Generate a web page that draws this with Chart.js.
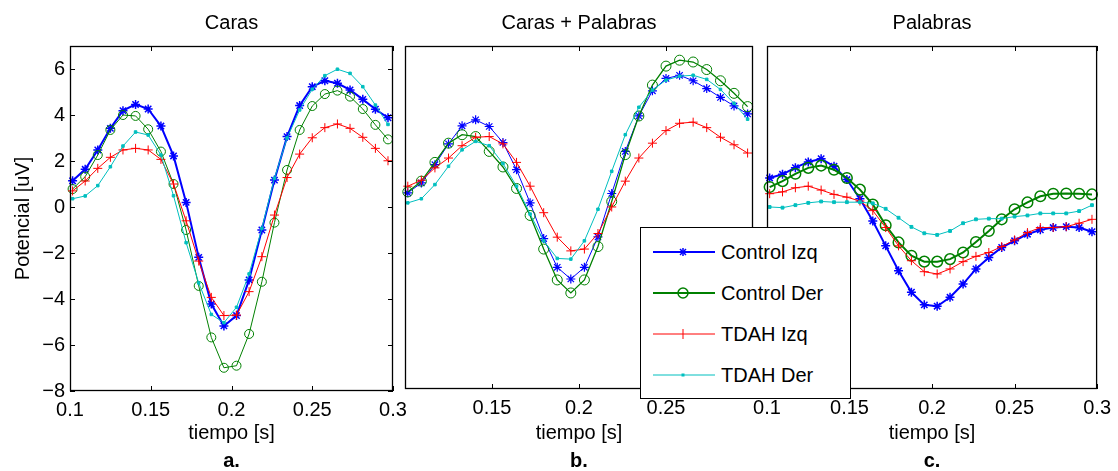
<!DOCTYPE html>
<html lang="es">
<head>
<meta charset="UTF-8">
<title>Potencial evocado: Caras / Palabras</title>
<script src="https://cdn.jsdelivr.net/npm/chart.js"></script>
<style>
  body { margin: 0; background: #fff; font-family: 'Liberation Sans', Arial, sans-serif; }
  #lienzo { position: relative; width: 1118px; height: 471px; overflow: hidden; }
  canvas { position: absolute; top: 0; }
  #leyenda { position: absolute; left: 640px; top: 227px; width: 209px; height: 170px;
    border: 1px solid #000; background: #fff; z-index: 5; }
  .fila { position: absolute; left: 11px; height: 20px; width: 195px; }
  .fila svg { position: absolute; left: 0; top: 0; }
  .fila span { position: absolute; left: 69px; top: 0; line-height: 20px; font-size: 20px; color: #000; white-space: nowrap; }
</style>
</head>
<body>
<div id="lienzo">
  <canvas id="panelA" width="420" height="471" style="left:0px"></canvas>
  <canvas id="panelB" width="390" height="471" style="left:385px"></canvas>
  <canvas id="panelC" width="378" height="471" style="left:740px"></canvas>
  <div id="leyenda">
    <div class="fila" style="top:14px">
      <svg width="64" height="20"><line x1="1" y1="10" x2="63" y2="10" stroke="#0000ff" stroke-width="2"/>
        <g stroke="#0000ff" stroke-width="1.5"><line x1="27" y1="10" x2="35" y2="10"/><line x1="31" y1="6" x2="31" y2="14"/><line x1="28" y1="7" x2="34" y2="13"/><line x1="34" y1="7" x2="28" y2="13"/></g></svg>
      <span>Control Izq</span>
    </div>
    <div class="fila" style="top:55px">
      <svg width="64" height="20"><line x1="1" y1="10" x2="63" y2="10" stroke="#008000" stroke-width="2"/>
        <circle cx="31" cy="10" r="5" fill="none" stroke="#008000" stroke-width="1.5"/></svg>
      <span>Control Der</span>
    </div>
    <div class="fila" style="top:96px">
      <svg width="64" height="20"><line x1="1" y1="10" x2="63" y2="10" stroke="#ff0000" stroke-width="1"/>
        <line x1="31" y1="5" x2="31" y2="15" stroke="#ff0000" stroke-width="1"/></svg>
      <span>TDAH Izq</span>
    </div>
    <div class="fila" style="top:137px">
      <svg width="64" height="20"><line x1="1" y1="10" x2="63" y2="10" stroke="#00bfbf" stroke-width="1"/>
        <rect x="29.5" y="8.5" width="3" height="3" fill="#00bfbf"/></svg>
      <span>TDAH Der</span>
    </div>
  </div>
</div>

<script>
// tiempo de cada muestra [s]
const tiempo = [0.1016, 0.1094, 0.1172, 0.1250, 0.1328, 0.1406, 0.1484, 0.1563, 0.1641, 0.1719,
  0.1797, 0.1875, 0.1953, 0.2031, 0.2109, 0.2188, 0.2266, 0.2344, 0.2422, 0.2500,
  0.2578, 0.2656, 0.2734, 0.2813, 0.2891, 0.2969];

const nombres = ['Control Izq', 'Control Der', 'TDAH Izq', 'TDAH Der'];

// a. Caras
const carasCtrlIzq = [1.14, 1.64, 2.48, 3.42, 4.19, 4.46, 4.26, 3.52, 2.22, 0.20, -2.19, -4.22, -5.17, -4.72, -3.17, -1.00, 1.17, 3.06, 4.41, 5.23, 5.49, 5.38, 5.09, 4.68, 4.25, 3.88];
const carasCtrlDer = [0.78, 1.32, 2.26, 3.35, 4.00, 3.96, 3.38, 2.41, 1.00, -1.00, -3.43, -5.67, -6.99, -6.90, -5.52, -3.25, -0.68, 1.61, 3.35, 4.39, 4.91, 5.06, 4.80, 4.26, 3.57, 2.94];
const carasTdahIzq = [0.70, 1.13, 1.68, 2.16, 2.48, 2.55, 2.48, 2.07, 1.00, -0.60, -2.35, -3.93, -4.72, -4.70, -3.68, -2.16, -0.35, 1.28, 2.30, 3.01, 3.45, 3.61, 3.42, 3.03, 2.55, 2.01];
const carasTdahDer = [0.36, 0.48, 0.93, 1.75, 2.65, 3.26, 3.13, 2.26, 0.49, -1.55, -3.30, -4.67, -5.03, -4.36, -2.91, -0.93, 1.25, 3.00, 4.22, 5.12, 5.71, 5.99, 5.81, 5.23, 4.43, 3.59];

// b. Caras + Palabras
const ambosCtrlIzq = [0.58, 1.01, 1.81, 2.72, 3.51, 3.77, 3.48, 2.78, 1.59, 0.14, -1.42, -2.68, -3.19, -2.68, -1.35, 0.55, 2.39, 3.94, 5.04, 5.58, 5.72, 5.48, 5.14, 4.75, 4.38, 4.03];
const ambosCtrlDer = [0.62, 1.09, 1.91, 2.75, 3.12, 3.04, 2.39, 1.71, 0.77, -0.41, -1.88, -3.23, -3.80, -3.23, -1.77, 0.20, 2.25, 3.94, 5.29, 6.12, 6.38, 6.30, 5.97, 5.48, 4.93, 4.35];
const ambosTdahIzq = [0.87, 1.13, 1.67, 2.10, 2.64, 3.01, 3.04, 2.72, 1.91, 0.87, -0.29, -1.36, -1.96, -1.88, -1.20, -0.04, 1.09, 2.10, 2.75, 3.30, 3.62, 3.67, 3.43, 3.01, 2.68, 2.32];
const ambosTdahDer = [0.14, 0.32, 0.94, 1.74, 2.46, 2.83, 2.64, 1.86, 0.87, -0.35, -1.52, -2.29, -2.32, -1.52, -0.14, 1.52, 3.12, 4.32, 5.07, 5.51, 5.68, 5.72, 5.54, 5.10, 4.49, 3.80];

// c. Palabras
const palCtrlIzq = [1.23, 1.39, 1.68, 1.93, 2.07, 1.74, 1.16, 0.32, -0.65, -1.74, -2.83, -3.77, -4.32, -4.38, -3.99, -3.41, -2.75, -2.25, -1.81, -1.52, -1.23, -1.04, -0.94, -0.90, -0.94, -1.12];
const palCtrlDer = [0.83, 1.09, 1.41, 1.67, 1.77, 1.59, 1.23, 0.72, 0.07, -0.84, -1.59, -2.17, -2.43, -2.43, -2.32, -2.03, -1.57, -1.09, -0.58, -0.14, 0.16, 0.43, 0.54, 0.55, 0.54, 0.51];
const palTdahIzq = [0.54, 0.62, 0.80, 0.87, 0.70, 0.51, 0.39, 0.22, -0.20, -0.94, -1.74, -2.39, -2.87, -2.97, -2.75, -2.43, -2.20, -2.03, -1.77, -1.48, -1.16, -0.94, -0.94, -0.90, -0.75, -0.58];
const palTdahDer = [-0.04, -0.07, 0.04, 0.14, 0.20, 0.17, 0.17, 0.17, 0.12, -0.12, -0.51, -0.91, -1.19, -1.26, -1.09, -0.75, -0.58, -0.55, -0.55, -0.46, -0.41, -0.32, -0.32, -0.32, -0.22, 0.04];

const xTicks = [0.1, 0.15, 0.2, 0.25, 0.3];
const xTicksMedio = [0.15, 0.2, 0.25];
const yTicks = [-8, -6, -4, -2, 0, 2, 4, 6];

Chart.defaults.font.family = "'Liberation Sans', Arial, sans-serif";
Chart.defaults.font.size = 20;
Chart.defaults.color = '#000';

const estilos = [
  { color: '#0000ff', punto: 'star',   fondo: '#0000ff' },
  { color: '#008000', punto: 'circle', fondo: 'rgba(0,0,0,0)' },
  { color: '#ff0000', punto: 'cross',  fondo: '#ff0000' },
  { color: '#00bfbf', punto: 'rect',   fondo: '#00bfbf' }
];

// caja negra y marcas de graduacion hacia dentro, estilo matlab
const marco = {
  id: 'marco',
  afterDraw(chart, args, opts) {
    const { ctx, chartArea: a, scales } = chart;
    const L = 5;
    ctx.save();
    ctx.strokeStyle = '#000';
    ctx.lineWidth = 1;
    ctx.beginPath();
    scales.x.ticks.forEach(t => {
      const px = Math.round(scales.x.getPixelForValue(t.value)) + 0.5;
      ctx.moveTo(px, a.bottom); ctx.lineTo(px, a.bottom - L);
      ctx.moveTo(px, a.top); ctx.lineTo(px, a.top + L);
    });
    if (opts.conY) {
      scales.y.ticks.forEach(t => {
        const py = Math.round(scales.y.getPixelForValue(t.value)) + 0.5;
        ctx.moveTo(a.left, py); ctx.lineTo(a.left + L, py);
        ctx.moveTo(a.right, py); ctx.lineTo(a.right - L, py);
      });
    }
    ctx.stroke();
    ctx.lineWidth = 1.3;
    ctx.strokeRect(a.left + 0.5, a.top + 0.5, a.width - 1, a.height - 1);
    ctx.restore();
  }
};

function crearPanel(id, titulo, letra, series, p) {
  const datasets = series.map((s, i) => ({
    label: nombres[i],
    data: tiempo.map((t, j) => ({ x: t, y: s[j] })),
    borderColor: estilos[i].color,
    borderWidth: p.anchos[i],
    pointStyle: estilos[i].punto,
    pointRadius: p.radios[i],
    pointBorderColor: estilos[i].color,
    pointBackgroundColor: estilos[i].fondo,
    pointBorderWidth: p.anchosPunto[i],
    tension: 0,
    clip: false,
    order: 3 - i
  }));

  new Chart(document.getElementById(id), {
    type: 'line',
    data: { datasets },
    plugins: [marco],
    options: {
      responsive: false,
      animation: false,
      events: [],
      layout: { padding: { left: p.izq, right: p.der, top: 0, bottom: 0 } },
      plugins: {
        legend: { display: false },
        tooltip: { enabled: false },
        title: { display: true, text: titulo, fullSize: false, font: { size: 20, weight: 'normal' },
                 padding: { top: 11, bottom: 11 } },
        subtitle: { display: true, text: letra, position: 'bottom', fullSize: false,
                    font: { size: 20, weight: 'bold', lineHeight: 1 }, padding: { top: 0, bottom: 0 } },
        marco: { conY: p.conY }
      },
      scales: {
        x: {
          type: 'linear', min: 0.1, max: 0.3,
          grid: { display: false, drawTicks: false },
          border: { display: false },
          afterBuildTicks: s => { s.ticks = p.xTicks.map(v => ({ value: v })); },
          afterFit: s => { s.height = p.altoX; },
          ticks: { font: { size: 20 }, padding: 7, autoSkip: false, maxRotation: 0,
                   callback: v => String(v) },
          title: { display: true, text: 'tiempo [s]', font: { size: 20 }, padding: { top: 0, bottom: 6 } }
        },
        y: {
          type: 'linear', min: -8, max: 7,
          display: p.conY,
          grid: { display: false, drawTicks: false },
          border: { display: false },
          afterBuildTicks: s => { s.ticks = yTicks.map(v => ({ value: v })); },
          afterFit: s => { s.width = p.conY ? 70 : 0; },
          ticks: { font: { size: 20 }, padding: 5, callback: v => String(v).replace('-', '\u2212') },
          title: { display: true, text: 'Potencial [uV]', font: { size: 20 }, padding: { top: 11, bottom: 0 } }
        }
      }
    }
  });
}

crearPanel('panelA', 'Caras', 'a.', [carasCtrlIzq, carasCtrlDer, carasTdahIzq, carasTdahDer], {
  izq: 0, der: 27, altoX: 60, conY: true, xTicks: xTicks,
  anchos: [2, 1, 1, 1], radios: [4.5, 4.5, 4.5, 1.8], anchosPunto: [1.5, 1, 1, 1]
});
crearPanel('panelB', 'Caras + Palabras', 'b.', [ambosCtrlIzq, ambosCtrlDer, ambosTdahIzq, ambosTdahDer], {
  izq: 20, der: 22, altoX: 62, conY: false, xTicks: xTicksMedio,
  anchos: [1, 1.3, 1, 1], radios: [4.5, 5, 4.5, 1.8], anchosPunto: [1.2, 1, 1, 1]
});
crearPanel('panelC', 'Palabras', 'c.', [palCtrlIzq, palCtrlDer, palTdahIzq, palTdahDer], {
  izq: 27, der: 15, altoX: 62, conY: false, xTicks: xTicks,
  anchos: [2, 2, 1, 1], radios: [4.5, 5.3, 4.5, 2], anchosPunto: [1.5, 1.5, 1, 1]
});
</script>
</body>
</html>
